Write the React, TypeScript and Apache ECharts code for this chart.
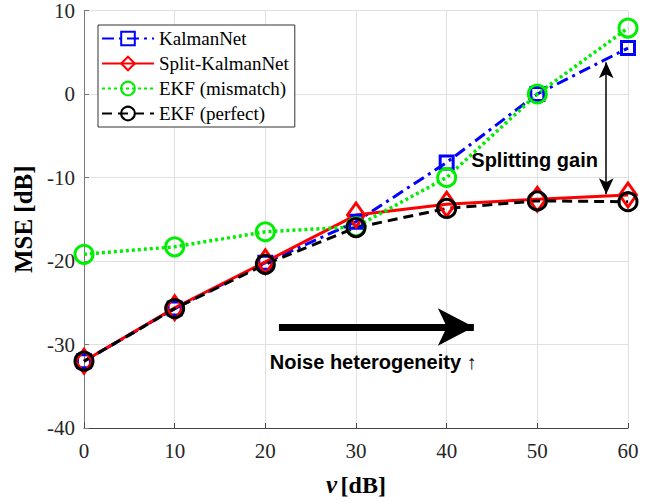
import React, { useEffect, useRef } from "react";
import * as echarts from "echarts";

const nu = [0, 10, 20, 30, 40, 50, 60];
const kalmanNet = [-32.0, -25.7, -20.2, -15.3, -8.2, 0.0, 5.5];
const splitKalmanNet = [-32.0, -25.6, -20.1, -14.5, -13.2, -12.6, -12.1];
const ekfMismatch = [-19.2, -18.3, -16.5, -15.9, -10.0, 0.0, 7.9];
const ekfPerfect = [-32.0, -25.7, -20.4, -16.0, -13.7, -12.8, -12.9];
const yTicks = { min: -40, max: 10, interval: 10 };
const xTicks = { min: 0, max: 60, interval: 10 };

const serif = "Liberation Serif";
const sans = "Liberation Sans";

function pairs(v: number[]) {
  return nu.map((x, i) => [x, v[i]]);
}

export default function App() {
  const ref = useRef<HTMLDivElement>(null);
  useEffect(() => {
    document.body.style.margin = "0";
    document.documentElement.style.overflow = "hidden";
    if (!ref.current) return;
    const chart = echarts.init(ref.current, null, { renderer: "svg", width: 655, height: 502 });
    const mk = (name: string, data: number[], color: string, symbol: string, size: any, lineType: any, width: number) => ({
      name,
      type: "line",
      data: pairs(data),
      symbol,
      symbolSize: size,
      lineStyle: { color, width, type: lineType },
      itemStyle: { color: "transparent", borderColor: color, borderWidth: 3 },
      emphasis: { disabled: true },
    });
    chart.setOption({
      animation: false,
      backgroundColor: "#fff",
      grid: { left: 84, right: 27, top: 9, bottom: 71, containLabel: false },
      legend: {
        data: ["KalmanNet", "Split-KalmanNet", "EKF (mismatch)", "EKF (perfect)"],
        orient: "vertical",
        left: 98,
        top: 25,
        itemWidth: 52,
        itemHeight: 17,
        itemGap: 6,
        padding: [4, 6, 4, 3],
        backgroundColor: "#fff",
        borderColor: "#333",
        borderWidth: 1,
        textStyle: { fontFamily: serif, fontSize: 19, color: "#000" },
      },
      xAxis: {
        type: "value",
        min: xTicks.min,
        max: xTicks.max,
        interval: xTicks.interval,
        name: "{i|ν} {b|[dB]}",
        nameLocation: "middle",
        nameGap: 44,
        nameTextStyle: {
          rich: {
            i: { fontFamily: serif, fontSize: 25, fontWeight: "bold", fontStyle: "italic", color: "#000" },
            b: { fontFamily: serif, fontSize: 24, fontWeight: "bold", color: "#000" },
          },
        },
        axisLine: { onZero: false, lineStyle: { color: "#444", width: 1 } },
        axisTick: { inside: true, length: 5, lineStyle: { color: "#444" } },
        axisLabel: { fontFamily: serif, fontSize: 21, color: "#262626", margin: 12 },
        splitLine: { lineStyle: { color: "#e0e0e0", width: 1 } },
      },
      yAxis: {
        type: "value",
        min: yTicks.min,
        max: yTicks.max,
        interval: yTicks.interval,
        name: "MSE [dB]",
        nameLocation: "middle",
        nameRotate: 90,
        nameGap: 46,
        nameTextStyle: { fontFamily: serif, fontSize: 25, fontWeight: "bold", color: "#000" },
        axisLine: { show: true, onZero: false, lineStyle: { color: "#777", width: 1 } },
        axisTick: { show: true, inside: true, length: 5, lineStyle: { color: "#777" } },
        axisLabel: { fontFamily: serif, fontSize: 21, color: "#262626", margin: 9 },
        splitLine: { lineStyle: { color: "#e0e0e0", width: 1 } },
      },
      series: [
        mk("KalmanNet", kalmanNet, "#0000ff", "rect", 13, [12, 5, 3, 5], 3),
        mk("Split-KalmanNet", splitKalmanNet, "#ff0000", "diamond", [17, 24], "solid", 3),
        mk("EKF (mismatch)", ekfMismatch, "#00ee00", "circle", 18, [3, 3], 3.5),
        mk("EKF (perfect)", ekfPerfect, "#000000", "circle", 18, [10, 6], 3),
        {
          name: "annotations",
          type: "line",
          data: [],
          markLine: {
            silent: true,
            animation: false,
            label: { show: false },
            lineStyle: { color: "#000", type: "solid" },
            data: [
              [
                { coord: [21.5, -27.9], symbol: "none", lineStyle: { width: 7 } },
                { coord: [43.0, -27.9], symbol: "arrow", symbolSize: [28, 36] },
              ],
              [
                { coord: [57.6, -12.0], symbol: "arrow", symbolSize: [11, 16], lineStyle: { width: 1.5 } },
                { coord: [57.6, 3.8], symbol: "arrow", symbolSize: [11, 16] },
              ],
            ],
          },
        },
      ],
    });
    const p1 = chart.convertToPixel({ gridIndex: 0 }, [49.7, -7.95]);
    const p2 = chart.convertToPixel({ gridIndex: 0 }, [31.9, -32.1]);
    chart.setOption({
      graphic: [
        {
          type: "text",
          x: p1[0],
          y: p1[1],
          style: { text: "Splitting gain", font: `bold 20px "${sans}"`, fill: "#000", align: "center", verticalAlign: "middle" },
        },
        {
          type: "text",
          x: p2[0],
          y: p2[1],
          style: { text: "Noise heterogeneity ↑", font: `bold 20px "${sans}"`, fill: "#000", align: "center", verticalAlign: "middle" },
        },
      ],
    });
    return () => chart.dispose();
  }, []);
  return <div ref={ref} style={{ width: 655, height: 502 }} />;
}
